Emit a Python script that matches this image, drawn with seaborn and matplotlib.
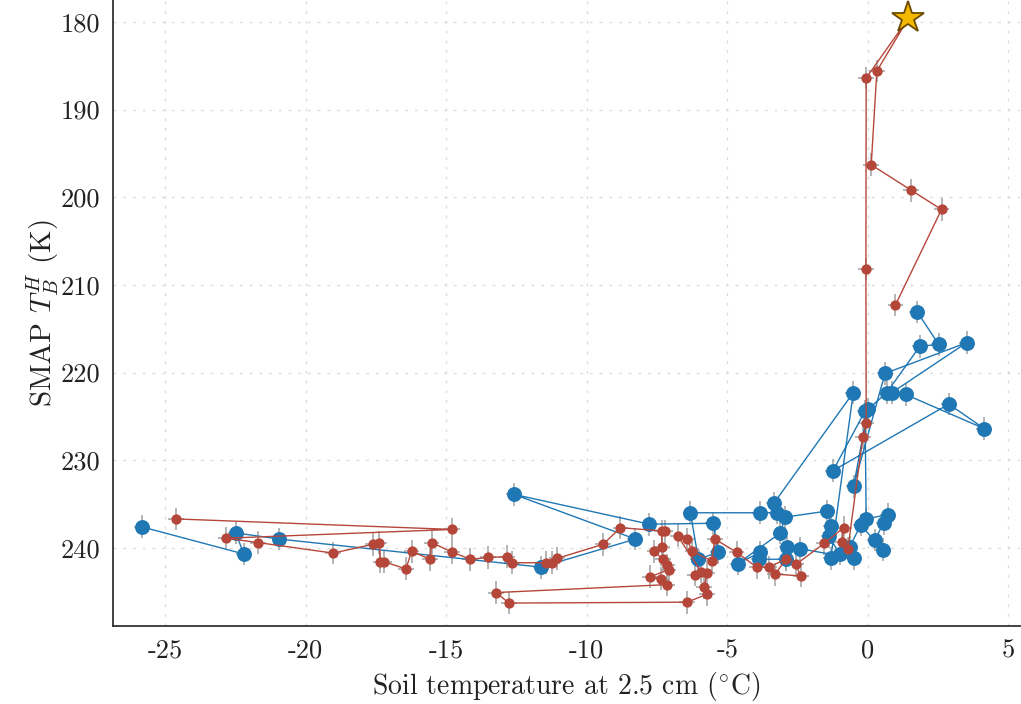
import matplotlib
matplotlib.use("Agg")
import matplotlib.pyplot as plt
import seaborn as sns
import pandas as pd
import numpy as np

# ---- data ----
blue_x = [-25.83, -22.20, -22.48, -20.93, -11.64, -8.27, -12.59, -7.77, -5.50, -5.32,
          -6.03, -6.31, -3.84, -3.23, -3.34, -0.52, -1.32, -1.00, -1.38, -1.30,
          -1.44, -2.95, -3.11, -4.63, -3.82, -3.88, -2.90, -2.87, -2.40, -0.51,
          -0.64, -0.26, 0.53, 0.24, 0.56, 0.71, -0.06, -0.10, -1.24, 2.88,
          4.14, 1.34, 0.85, 3.51, 0.61, -0.51, 0.00, 0.67, 1.85, 2.52, 1.76]
blue_y = [237.6, 240.7, 238.3, 239.0, 242.2, 239.0, 233.9, 237.3, 237.2, 240.5,
          241.3, 236.0, 236.0, 236.0, 234.9, 222.3, 241.2, 240.7, 238.7, 237.5,
          235.8, 236.5, 238.3, 241.8, 240.5, 241.3, 241.3, 239.9, 240.1, 241.2,
          239.9, 237.4, 240.2, 239.1, 237.2, 236.2, 236.7, 224.4, 231.2, 223.6,
          226.4, 222.5, 222.3, 216.6, 220.1, 233.0, 224.2, 222.3, 217.0, 216.8, 213.1]

red_x = [0.98, 2.62, 1.54, 0.12, 0.32, 1.44, -0.06, -0.07, -0.06, -0.18,
         -0.71, -0.92, -0.86, -1.56, -2.56, -2.39, -3.29, -2.92, -3.52, -3.96,
         -4.67, -5.44, -5.56, -6.24, -6.44, -6.77, -5.93, -6.15, -5.73, -5.82,
         -5.73, -6.43, -12.77, -13.22, -7.15, -7.35, -7.74, -7.09, -7.13, -7.30,
         -7.59, -7.33, -7.33, -7.21, -8.80, -9.42, -11.05, -11.23, -11.46, -12.65,
         -12.83, -13.50, -14.14, -14.78, -15.52, -15.57, -16.23, -16.43, -17.20, -17.34,
         -17.38, -17.61, -19.02, -21.69, -22.84, -14.79, -24.62]
red_y = [212.3, 201.4, 199.2, 196.3, 185.6, 179.6, 186.4, 208.2, 225.8, 227.4,
         240.1, 239.3, 237.7, 239.5, 241.9, 243.2, 243.0, 241.3, 242.2, 242.2,
         240.5, 239.0, 241.5, 240.4, 239.0, 238.6, 242.7, 243.1, 242.9, 244.5,
         245.3, 246.2, 246.3, 245.1, 244.2, 243.5, 243.3, 242.5, 242.0, 241.3,
         240.4, 239.9, 238.1, 238.1, 237.7, 239.6, 241.2, 241.7, 241.7, 241.7,
         241.0, 241.1, 241.3, 240.5, 239.4, 241.3, 240.4, 242.4, 241.6, 241.6,
         239.4, 239.6, 240.6, 239.4, 238.9, 237.9, 236.7]
star_index = 5  # point of the red series shown as a star

x_err = 0.28
y_err = 1.3

x_ticks = [-25, -20, -15, -10, -5, 0, 5]
y_ticks = [180, 190, 200, 210, 220, 230, 240]

blue_df = pd.DataFrame({"x": blue_x, "y": blue_y})
red_df = pd.DataFrame({"x": red_x, "y": red_y})
red_dots = red_df.drop(index=star_index)

# ---- style ----
sns.set_style("white")
plt.rcParams["font.family"] = ["cmr10", "DejaVu Serif"]
plt.rcParams["mathtext.fontset"] = "cm"
plt.rcParams["axes.unicode_minus"] = False
plt.rcParams["axes.formatter.use_mathtext"] = True

BLUE = "#1f77b4"
RED = "#b5473a"

fig = plt.figure(figsize=(10.21, 7.04), dpi=100)
ax = fig.add_axes([0.1107, 0.111, 0.888, 0.889])

# error bars
ax.errorbar(blue_df.x, blue_df.y, xerr=x_err, yerr=y_err, fmt="none",
            ecolor="#a0a0a0", elinewidth=1.1, zorder=1)
ax.errorbar(red_dots.x, red_dots.y, xerr=x_err, yerr=y_err, fmt="none",
            ecolor="#a0a0a0", elinewidth=1.1, zorder=1)

sns.lineplot(data=blue_df, x="x", y="y", sort=False, estimator=None, ax=ax,
             color=BLUE, linewidth=1.0, zorder=2)
sns.scatterplot(data=blue_df, x="x", y="y", ax=ax, color=BLUE, s=115,
                linewidth=0, zorder=3)
sns.lineplot(data=red_df, x="x", y="y", sort=False, estimator=None, ax=ax,
             color=RED, linewidth=1.0, zorder=4)
sns.scatterplot(data=red_dots, x="x", y="y", ax=ax, color=RED, s=55,
                linewidth=0, zorder=5)
ax.plot(red_x[star_index], red_y[star_index], marker="*", markersize=24,
        color="#f5b800", markeredgecolor="#6b4a00", markeredgewidth=1.3,
        linestyle="none", zorder=6)

ax.set_xlim(-26.85, 5.4)
ax.set_ylim(248.9, 177.5)
ax.set_xticks(x_ticks)
ax.set_yticks(y_ticks)
ax.set_xticklabels([str(t) for t in x_ticks])
ax.set_yticklabels([str(t) for t in y_ticks])

ax.grid(True, color="#dcdcdc", linestyle=(0, (2, 5)), linewidth=1.0)
for s in ["top", "right"]:
    ax.spines[s].set_visible(False)
for s in ["left", "bottom"]:
    ax.spines[s].set_color("#333333")
    ax.spines[s].set_linewidth(1.3)
ax.tick_params(direction="in", length=6, width=1.2, color="#333333",
               labelsize=19, labelcolor="#222222", pad=9)

ax.set_xlabel(r"Soil temperature at 2.5 cm ($^{\circ}$C)", fontsize=20,
              color="#222222", labelpad=6)
ax.set_ylabel(r"SMAP $T_B^H$ (K)", fontsize=21, color="#222222", labelpad=0)

fig.savefig("out.png", dpi=100)
